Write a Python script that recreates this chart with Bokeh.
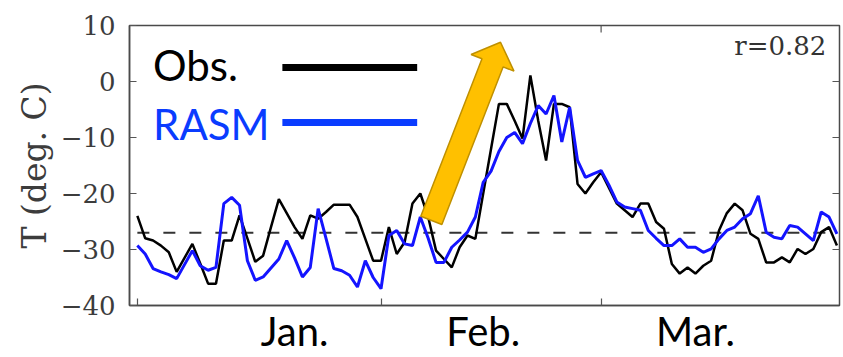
import math
from bokeh.plotting import figure
from bokeh.models import Range1d, FixedTicker, LinearAxis, Label
from bokeh.embed import file_html
from bokeh.resources import INLINE

# ---------------- data ----------------
days = list(range(90))  # day index, 0 = 1 Jan
obs = [-24.0, -28.0, -28.4, -29.3, -30.5, -34.0, -31.5, -29.0, -32.5, -36.1,
       -36.1, -28.4, -28.4, -23.9, -28.0, -32.2, -31.1, -26.0, -21.0, -23.5,
       -26.0, -28.1, -23.9, -24.5, -23.3, -22.0, -22.0, -22.0, -24.2, -28.1,
       -32.0, -32.0, -26.0, -30.8, -28.7, -21.8, -20.0, -24.2, -30.2, -31.7,
       -33.2, -29.6, -27.5, -28.1, -20.0, -12.0, -4.0, -4.0, -7.0, -10.2,
       1.1, -7.0, -14.1, -4.0, -4.0, -4.6, -18.3, -20.0, -18.0, -16.2,
       -19.0, -21.8, -23.0, -24.2, -21.8, -21.8, -25.1, -26.3, -32.6, -34.3,
       -33.2, -34.3, -32.9, -32.0, -26.6, -23.5, -21.8, -23.0, -27.2, -28.1,
       -32.3, -32.3, -31.4, -32.3, -29.9, -30.8, -29.9, -26.9, -26.0, -29.3]
rasm = [-29.3, -30.8, -33.4, -34.0, -34.5, -35.2, -32.7, -30.2, -32.9, -33.7,
        -33.2, -21.8, -20.7, -22.1, -32.0, -35.5, -34.9, -33.3, -31.7, -28.4,
        -31.5, -34.9, -33.2, -22.7, -28.0, -33.4, -33.8, -34.6, -36.7, -32.0,
        -35.0, -37.0, -27.5, -26.6, -29.0, -29.3, -24.2, -28.0, -32.3, -32.3,
        -29.6, -28.3, -26.9, -24.2, -18.0, -16.0, -12.5, -10.0, -9.1, -11.1,
        -7.5, -4.3, -5.8, -2.5, -10.8, -4.6, -14.1, -17.1, -16.5, -15.9,
        -18.5, -21.5, -22.4, -22.7, -23.0, -26.6, -28.0, -29.3, -29.3, -28.1,
        -29.6, -29.6, -30.5, -29.9, -28.1, -26.6, -26.0, -24.5, -23.6, -20.4,
        -26.9, -27.8, -28.1, -25.7, -26.0, -27.2, -28.4, -23.3, -24.2, -27.2]
climatology = -27.0
month_starts = [0, 31, 59]
month_label_pos = [20, 44, 71]
month_labels = ["Jan.", "Feb.", "Mar."]
y_ticks = [-40, -30, -20, -10, 0, 10]
series_names = ["Obs.", "RASM"]
corr_text = "r=0.82"

# ---------------- styling ----------------
X0, X1 = -1.0, 89.33
Y0, Y1 = -40.0, 10.0
FW, FH = 710, 280
sx = FW / (X1 - X0)   # px per day
sy = FH / (Y1 - Y0)   # px per degree
BLUE = "#1414ff"
LEG_BLUE = "#0a3cff"
GRAY = "#3c3c3c"
TICK = "#555555"
SERIF = "DejaVu Serif"
SANS = "Lato"
TICK_LEN = 7

p = figure(width=843, height=357, output_backend="svg", toolbar_location=None,
           x_range=Range1d(X0, X1), y_range=Range1d(Y0, Y1),
           x_axis_location=None, y_axis_location=None,
           min_border_left=129, min_border_right=4, min_border_top=25,
           min_border_bottom=52)
p.xgrid.visible = False
p.ygrid.visible = False
p.grid.grid_line_color = None
p.outline_line_color = "#4a4a4a"
p.outline_line_width = 1.5
p.background_fill_color = "white"
p.border_fill_color = "white"

# left axis
yax = LinearAxis(ticker=FixedTicker(ticks=y_ticks),
                 major_tick_in=TICK_LEN, major_tick_out=0,
                 minor_tick_line_color=None,
                 axis_line_color="#4a4a4a", axis_line_width=1.5,
                 major_tick_line_color=TICK, major_tick_line_width=1.2,
                 major_label_text_font=SERIF, major_label_text_font_size="26px",
                 major_label_text_color=GRAY, major_label_standoff=14,
                 axis_label="T (deg. C)", axis_label_text_font=SERIF,
                 axis_label_text_font_size="33px",
                 axis_label_text_font_style="normal",
                 axis_label_text_color=GRAY, axis_label_standoff=4)
p.add_layout(yax, "left")

# bottom axis: minor ticks at month starts, labels at month centres
bax = LinearAxis(ticker=FixedTicker(ticks=month_label_pos, minor_ticks=month_starts),
                 major_tick_in=0, major_tick_out=0,
                 minor_tick_in=TICK_LEN, minor_tick_out=0,
                 minor_tick_line_color=TICK, minor_tick_line_width=1.2,
                 axis_line_color="#4a4a4a", axis_line_width=1.5,
                 major_label_overrides={v: t for v, t in zip(month_label_pos, month_labels)},
                 major_label_text_font=SANS, major_label_text_font_size="40px",
                 major_label_text_color="black", major_label_standoff=1)
p.add_layout(bax, "below")

# mirrored inner ticks on the right and top frame edges
p.segment(x0=[X1 - TICK_LEN / sx] * len(y_ticks), y0=y_ticks,
          x1=[X1] * len(y_ticks), y1=y_ticks, line_color=TICK, line_width=1.2)
p.segment(x0=[month_starts[2]], y0=[Y1 - TICK_LEN / sy],
          x1=[month_starts[2]], y1=[Y1], line_color=TICK, line_width=1.2)

# climatology dashed line
p.line([days[0], days[-1]], [climatology, climatology], line_color="#333333",
       line_width=2, line_dash="12 14")

# series
p.line(days, obs, line_color="black", line_width=2.5)
p.line(days, rasm, line_color=BLUE, line_width=3)

# legend (text left, line right)
leg_y = [2.5, -7.3]
leg_text_y = [3.0, -7.6]
leg_colors = ["black", LEG_BLUE]
for name, ty, ly, c in zip(series_names, leg_text_y, leg_y, leg_colors):
    p.add_layout(Label(x=2.0, y=ty, text=name, text_font=SANS,
                       text_font_size="42px", text_color=c,
                       text_baseline="alphabetic", text_align="left"))
    p.segment(x0=[18.45], y0=[ly], x1=[35.6], y1=[ly], line_color=c, line_width=7)

# correlation text
p.add_layout(Label(x=87.66, y=6.4, text=corr_text, text_font=SERIF,
                   text_font_size="26px", text_color="#333333",
                   text_align="right", text_baseline="alphabetic"))

# arrow annotation (drawn as a polygon in pixel space)
tail = (37.4, -24.8)
tip = (46.2, 7.0)
tx, ty = tail[0] * sx, tail[1] * sy
hx, hy = tip[0] * sx, tip[1] * sy
L = math.hypot(hx - tx, hy - ty)
ux, uy = (hx - tx) / L, (hy - ty) / L
nx, ny = -uy, ux
shaft_hw, head_hw, head_len = 11.3, 23.0, 22.0
kx, ky = hx - ux * head_len, hy - uy * head_len
pts = [(tx + nx * shaft_hw, ty + ny * shaft_hw),
       (kx + nx * shaft_hw, ky + ny * shaft_hw),
       (kx + nx * head_hw, ky + ny * head_hw),
       (hx, hy),
       (kx - nx * head_hw, ky - ny * head_hw),
       (kx - nx * shaft_hw, ky - ny * shaft_hw),
       (tx - nx * shaft_hw, ty - ny * shaft_hw)]
p.patch([q[0] / sx for q in pts], [q[1] / sy for q in pts],
        fill_color="#ffc000", line_color="#bf9000", line_width=1.5)

open("out.html", "w").write(file_html(p, INLINE))
